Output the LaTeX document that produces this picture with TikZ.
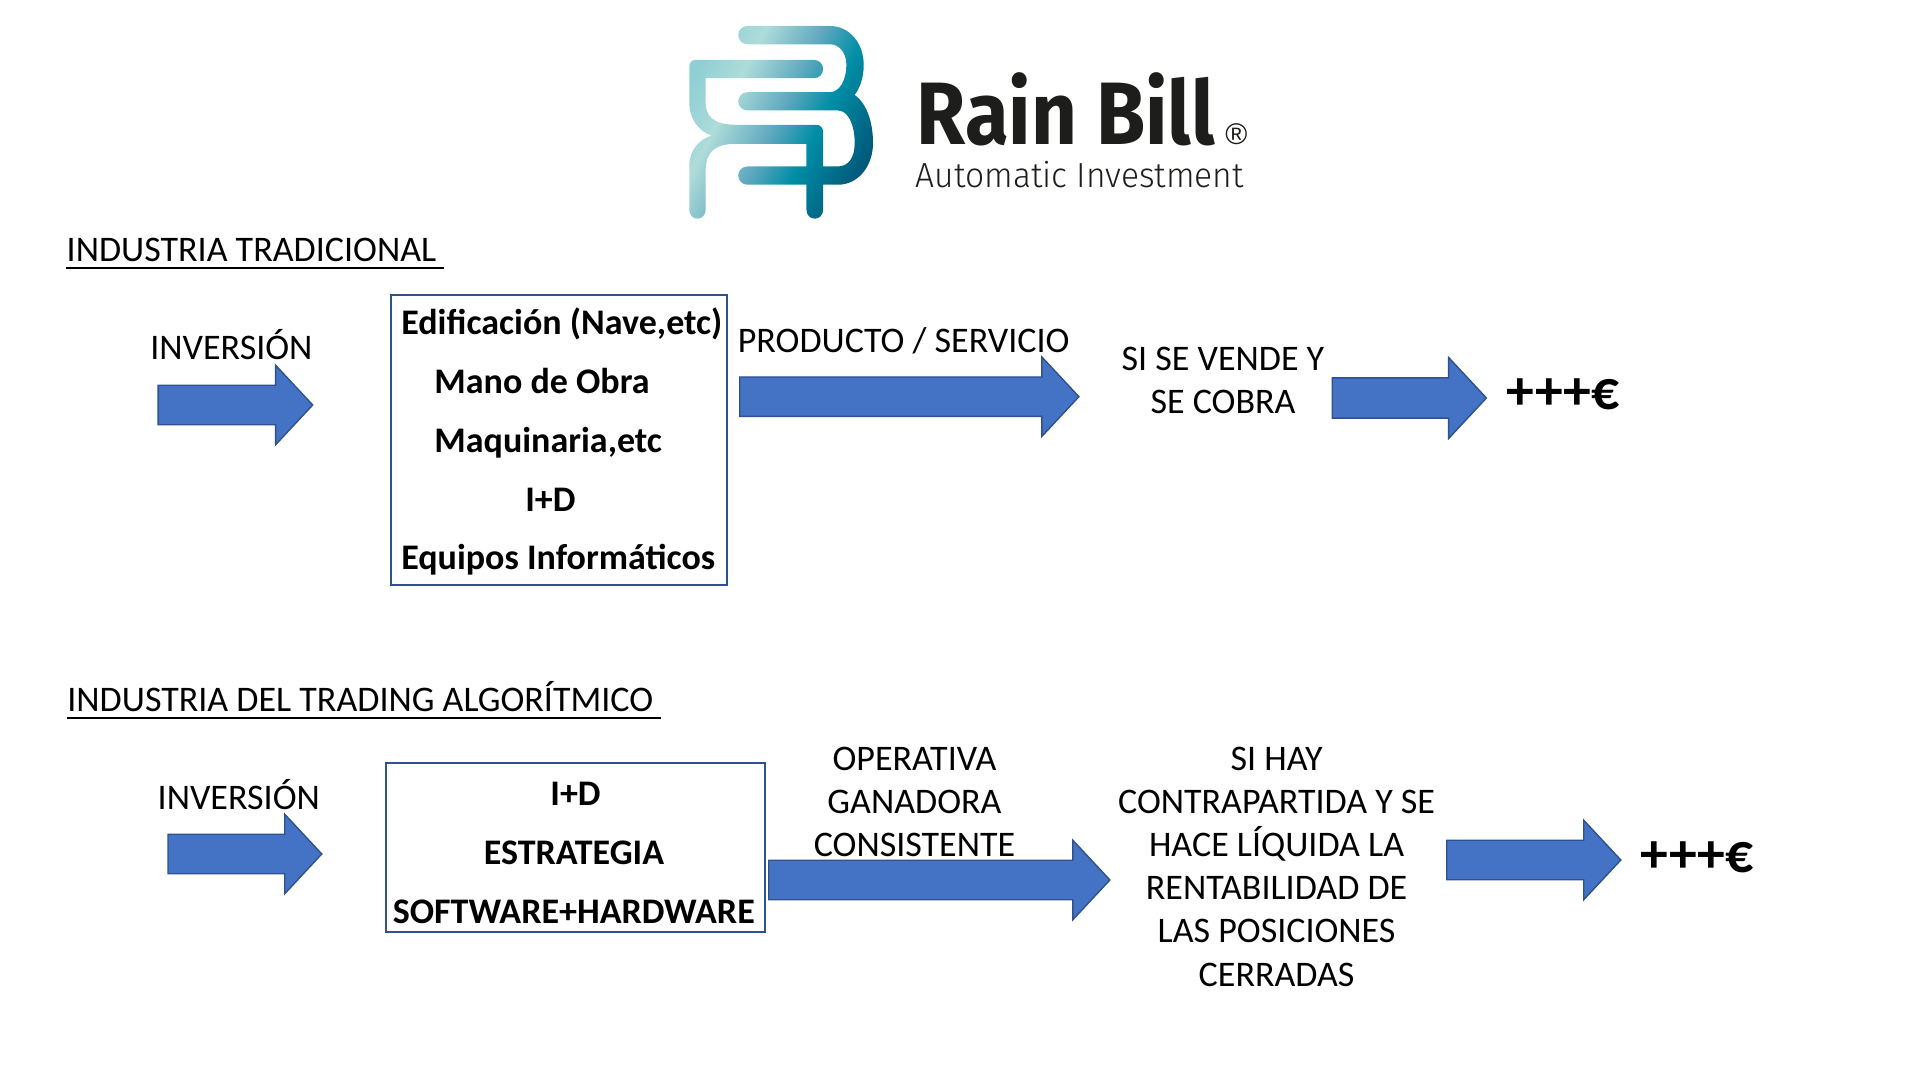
\documentclass[tikz,border=0pt]{standalone}
\usepackage{fontspec}
\usepackage{xcolor}
\usepackage{tikz}
\usetikzlibrary{shapes.arrows}
\setmainfont{Carlito}
\newfontfamily\logofont[FakeStretch=0.9]{Fira Sans}
\newfontfamily\tagfont[FakeStretch=0.965]{Fira Sans Light}
\newfontfamily\regfont{Liberation Sans}
\definecolor{blockblue}{HTML}{4472C4}
\definecolor{blockedge}{HTML}{2F528F}
\definecolor{logoink}{HTML}{1D1D1B}
\definecolor{logoA}{HTML}{8FCFD4}
\definecolor{logoB}{HTML}{AEDCD9}
\definecolor{logoC}{HTML}{5FA8BF}
\definecolor{logoD}{HTML}{008EA6}
\definecolor{logoE}{HTML}{005A7C}
\pgfdeclarehorizontalshading{rainlogo}{100bp}{
  color(0bp)=(logoA);
  color(23.5bp)=(logoA);
  color(34.8bp)=(logoB);
  color(48.8bp)=(logoC);
  color(59.4bp)=(logoD);
  color(74.4bp)=(logoE);
  color(100bp)=(logoE)}
\tikzset{
  blockarrow/.style={single arrow,draw=blockedge,fill=blockblue,line width=0.4pt,inner xsep=0pt,inner ysep=0.19cm,
    single arrow head extend=0.2cm,single arrow tip angle=94,minimum width=0.78cm,anchor=tail},
  listbox/.style={rectangle,draw=blockedge,line width=0.55pt,inner sep=0pt,anchor=north west},
  plaintext/.style={inner sep=0pt,font=\fontsize{10.24}{12.24}\selectfont,anchor=base},
  boldline/.style={plaintext,font=\fontsize{10.24}{12.24}\selectfont\bfseries},
  profit/.style={inner sep=0pt,anchor=base west,font=\fontsize{15.8}{19}\selectfont\bfseries},
  headrule/.style={line width=0.6pt}
}
\begin{document}
\begin{tikzpicture}[x=0.01cm,y=-0.01cm]
  \useasboundingbox (0,0) rectangle (1920,1080);
  \begin{scope}[shift={(670,15)},x=0.003333cm,y=-0.003333cm]
    \shade[shading=rainlogo,shading angle=-27]
      (233,33) -- (480,33) .. controls (540,33) and (582,85) .. (582,150)
      .. controls (582,190) and (570,220) .. (555,240)
      .. controls (590,265) and (610,320) .. (610,385)
      .. controls (610,455) and (565,510) .. (505,510) -- (233,510)
      .. controls (218,510) and (205,498) .. (205,482)
      .. controls (205,467) and (218,455) .. (233,455) -- (505,455)
      .. controls (535,455) and (555,430) .. (555,385)
      .. controls (555,330) and (535,287) .. (505,287) -- (233,287)
      .. controls (218,287) and (205,275) .. (205,259)
      .. controls (205,244) and (218,232) .. (233,232) -- (480,232)
      .. controls (510,232) and (530,195) .. (530,150)
      .. controls (530,115) and (510,88) .. (480,88) -- (233,88)
      .. controls (218,88) and (205,76) .. (205,60)
      .. controls (205,45) and (218,33) .. (233,33) -- cycle
      (75,135) -- (433,135) .. controls (448,135) and (460,147) .. (460,162)
      .. controls (460,178) and (448,190) .. (433,190) -- (107,190) -- (107,260)
      .. controls (107,300) and (125,330) .. (200,330) -- (440,330)
      .. controls (452,330) and (460,340) .. (460,350) -- (460,585)
      .. controls (460,600) and (450,612) .. (435,612)
      .. controls (420,612) and (410,600) .. (410,585) -- (410,387) -- (200,387)
      .. controls (135,387) and (107,410) .. (107,470) -- (107,585)
      .. controls (107,600) and (97,612) .. (82,612)
      .. controls (68,612) and (58,600) .. (58,585) -- (58,450)
      .. controls (58,410) and (85,375) .. (125,362)
      .. controls (85,350) and (58,310) .. (58,265) -- (58,155)
      .. controls (58,145) and (65,135) .. (75,135) -- cycle;
  \end{scope}
  \node[inner sep=0pt,anchor=base west,text=logoink,font=\logofont\fontsize{25.2}{30}\selectfont\bfseries] (brand) at (916,145) {Rain Bill};
  \node[inner sep=0pt,text=logoink,font=\regfont\fontsize{8.5}{10}\selectfont] (regmark) at (1236.5,134) {®};
  \node[inner sep=0pt,anchor=base west,text=logoink,font=\tagfont\fontsize{9.9}{12}\selectfont] (tagline) at (915,187.5) {Automatic Investment};

  \node[plaintext,anchor=base west] (headA) at (66,262) {INDUSTRIA TRADICIONAL};
  \draw[headrule] ([yshift=-1.6pt]headA.base west) -- ([xshift=0.07cm,yshift=-1.6pt]headA.base east);
  \node[plaintext] (investA) at (231.4,359.8) {INVERSIÓN};
  \node[blockarrow,minimum height=1.545cm] (arrowA) at (157.4,405) {};
  \node[listbox,minimum width=3.357cm,minimum height=2.9cm] (boxA) at (390,294) {};
  \node[boldline,anchor=base west] (lineAa) at (400.6,335) {Edificación (Nave,etc)};
  \node[boldline,anchor=base west] (lineAb) at (433.7,393.8) {Mano de Obra};
  \node[boldline,anchor=base west] (lineAc) at (433.7,452.8) {Maquinaria,etc};
  \node[boldline,anchor=base west] (lineAd) at (524.6,511.5) {I+D};
  \node[boldline,anchor=base west] (lineAe) at (400.6,570) {Equipos Informáticos};
  \node[plaintext] (productA) at (903.7,352.2) {PRODUCTO / SERVICIO};
  \node[blockarrow,minimum height=3.39cm] (arrowB) at (739,396.7) {};
  \node[plaintext] (sellA) at (1223,370.5) {SI SE VENDE Y};
  \node[plaintext] (sellB) at (1223,413.2) {SE COBRA};
  \node[blockarrow,minimum height=1.541cm,minimum width=0.81cm] (arrowC) at (1331.5,398) {};
  \node[profit] (profitA) at (1506,410) {+++€};

  \node[plaintext,anchor=base west] (headB) at (66.7,712) {INDUSTRIA DEL TRADING ALGORÍTMICO};
  \draw[headrule] ([yshift=-1.6pt]headB.base west) -- ([xshift=0.07cm,yshift=-1.6pt]headB.base east);
  \node[plaintext] (investB) at (238.8,809.5) {INVERSIÓN};
  \node[blockarrow,minimum height=1.537cm] (arrowD) at (167.3,854) {};
  \node[listbox,minimum width=3.784cm,minimum height=1.69cm] (boxB) at (385,762) {};
  \node[boldline] (lineBa) at (575.5,806) {I+D};
  \node[boldline] (lineBb) at (574,864.7) {ESTRATEGIA};
  \node[boldline] (lineBc) at (573.8,923.7) {SOFTWARE+HARDWARE};
  \node[plaintext] (tradeA) at (914.5,770.5) {OPERATIVA};
  \node[plaintext] (tradeB) at (914.5,813.5) {GANADORA};
  \node[plaintext] (tradeC) at (914.5,856.5) {CONSISTENTE};
  \node[blockarrow,minimum height=3.41cm] (arrowE) at (768,880) {};
  \node[plaintext] (fillA) at (1276.6,770.5) {SI HAY};
  \node[plaintext] (fillB) at (1276.6,813.5) {CONTRAPARTIDA Y SE};
  \node[plaintext] (fillC) at (1276.6,856.5) {HACE LÍQUIDA LA};
  \node[plaintext] (fillD) at (1276.6,899.5) {RENTABILIDAD DE};
  \node[plaintext] (fillE) at (1276.6,942.5) {LAS POSICIONES};
  \node[plaintext] (fillF) at (1276.6,986.5) {CERRADAS};
  \node[blockarrow,minimum height=1.74cm] (arrowF) at (1446,860) {};
  \node[profit] (profitB) at (1640,873) {+++€};
\end{tikzpicture}
\end{document}
